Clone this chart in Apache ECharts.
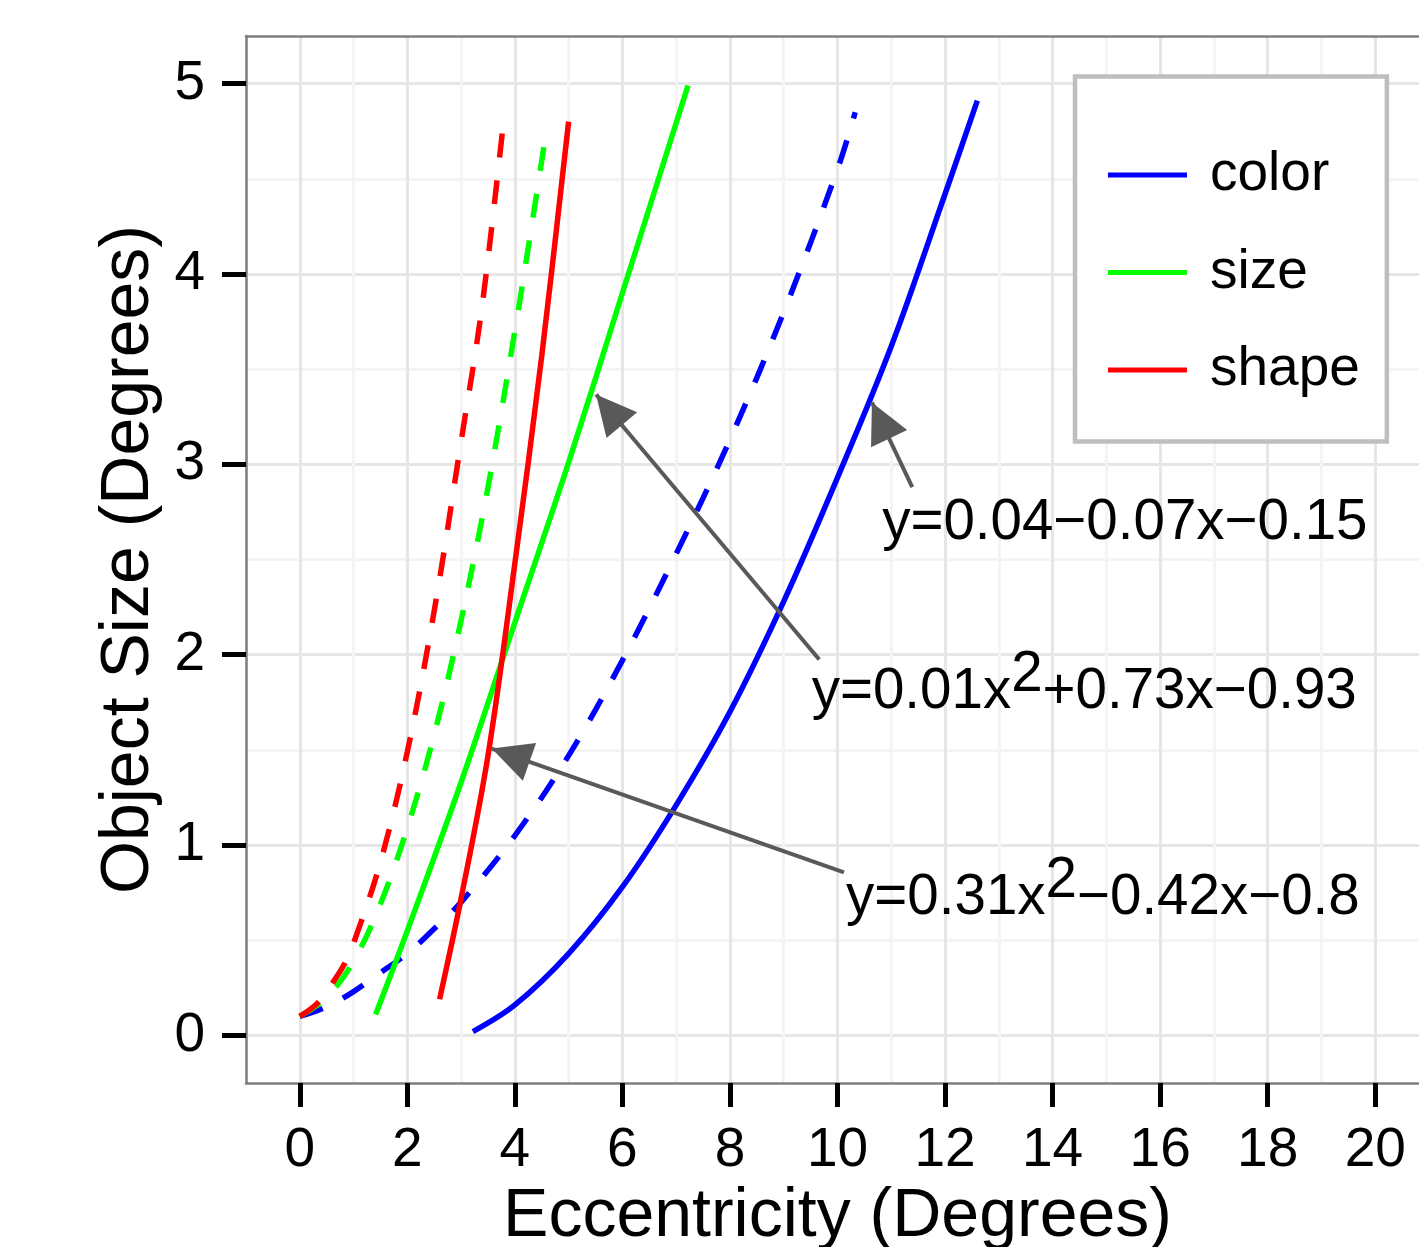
<!DOCTYPE html>
<html>
<head>
<meta charset="utf-8">
<script src="https://cdn.jsdelivr.net/npm/echarts@6/dist/echarts.min.js"></script>
<style>
  html, body { margin: 0; padding: 0; background: #fff; }
  #main { width: 1419px; height: 1247px; }
</style>
</head>
<body>
<div id="main"></div>
<script>
// tick labels
var xTicks = [0, 2, 4, 6, 8, 10, 12, 14, 16, 18, 20];
var yTicks = [0, 1, 2, 3, 4, 5];
var legendNames = ['color', 'size', 'shape'];

// curves, [eccentricity, size]
var colorSolid = [[3.22, 0.02], [4.0, 0.16], [5.0, 0.43], [6.0, 0.78], [7.0, 1.21], [8.0, 1.70],
                  [9.0, 2.28], [10.0, 2.93], [11.0, 3.62], [12.0, 4.42], [12.6, 4.91]];
var colorDashed = [[0, 0.10], [0.5, 0.15], [1.0, 0.23], [1.5, 0.33], [2.0, 0.43], [2.5, 0.56],
                   [3.0, 0.70], [4.0, 1.05], [5.0, 1.47], [6.0, 1.97], [7.0, 2.53], [8.0, 3.13],
                   [9.0, 3.80], [10.0, 4.55], [10.33, 4.85]];
var sizeSolid = [[1.41, 0.11], [2.0, 0.55], [3.0, 1.33], [4.0, 2.17], [5.0, 3.01], [6.0, 3.90], [7.22, 4.99]];
var sizeDashed = [[0, 0.10], [0.5, 0.20], [1.0, 0.39], [1.5, 0.69], [2.0, 1.09], [2.5, 1.58],
                  [3.0, 2.18], [3.5, 2.88], [4.0, 3.70], [4.3, 4.23], [4.6, 4.78]];
var shapeSolid = [[2.6, 0.19], [3.0, 0.72], [3.5, 1.47], [4.0, 2.48], [4.5, 3.57], [5.0, 4.80]];
var shapeDashed = [[0, 0.10], [0.33, 0.17], [0.62, 0.28], [0.84, 0.38], [1.02, 0.50], [1.5, 0.91],
                   [2.0, 1.49], [2.5, 2.23], [3.0, 3.12], [3.39, 3.83], [3.8, 4.83]];

// annotations
var arrowFrom = [[11.39, 2.88], [9.66, 1.975], [10.12, 0.856]];
var arrowTo = [[10.64, 3.325], [5.51, 3.367], [3.57, 1.507]];
var notePos = [[10.83, 2.69], [9.52, 1.80], [10.16, 0.72]];
var noteText = ['y=0.04\u22120.07x\u22120.15', 'y=0.01x{sup|2}+0.73x\u22120.93', 'y=0.31x{sup|2}\u22120.42x\u22120.8'];

var FONT = '"Liberation Sans", Arial, sans-serif';
var ARROW = '#595959';
var chart = echarts.init(document.getElementById('main'));

function curve(name, data, color, dashed) {
    return {
        name: name,
        type: 'line',
        data: data,
        smooth: 0.35,
        symbol: 'none',
        showSymbol: false,
        silent: true,
        itemStyle: { color: color },
        lineStyle: { color: color, width: 5.5, type: dashed ? [24, 23] : 'solid', cap: 'butt' }
    };
}

var border = { color: '#7f7f7f', width: 2.5 };

var option = {
    animation: false,
    backgroundColor: '#fff',
    grid: { left: 246, right: -10, top: 36, bottom: 164, outerBoundsMode: 'none', containLabel: false },
    legend: {
        data: legendNames,
        orient: 'vertical',
        left: 1075,
        top: 76.5,
        padding: [68.5, 27, 41.5, 33],
        itemGap: 37.5,
        itemWidth: 79,
        itemHeight: 5,
        icon: 'rect',
        itemStyle: { borderWidth: 0 },
        backgroundColor: '#fff',
        borderColor: '#bebebe',
        borderWidth: 4.5,
        borderRadius: 0,
        selectedMode: false,
        textStyle: { fontFamily: FONT, fontSize: 55, color: '#000', lineHeight: 60, padding: [0, 0, 0, 18] }
    },
    xAxis: [
        {   // grid lines: minor at odd, major at even
            type: 'value', min: -1, max: 21, interval: 1,
            axisLine: { show: false }, axisTick: { show: false }, axisLabel: { show: false },
            splitLine: { show: true, lineStyle: { color: ['#f4f4f4', '#e6e6e6'], width: 3 } }
        },
        {
            type: 'value', min: -1, max: 21, position: 'bottom', z: 5,
            axisLine: { show: true, onZero: false, lineStyle: border },
            axisTick: { show: true, customValues: xTicks, length: 24, lineStyle: { color: '#000', width: 5 } },
            axisLabel: { show: true, customValues: xTicks, margin: 40, fontFamily: FONT, fontSize: 55, color: '#000' },
            splitLine: { show: false },
            name: 'Eccentricity (Degrees)', nameLocation: 'middle', nameGap: 98,
            nameTextStyle: { fontFamily: FONT, fontSize: 68, color: '#000' }
        },
        {
            type: 'value', min: -1, max: 21, position: 'top', z: 5,
            axisLine: { show: true, onZero: false, lineStyle: border },
            axisTick: { show: false }, axisLabel: { show: false }, splitLine: { show: false }
        }
    ],
    yAxis: [
        {   // grid lines every 0.25, only 0, .5, 1 ... are coloured
            type: 'value', min: -0.25, max: 5.25, interval: 0.25,
            axisLine: { show: false }, axisTick: { show: false }, axisLabel: { show: false },
            splitLine: { show: true, lineStyle: { color: ['rgba(0,0,0,0)', '#e6e6e6', 'rgba(0,0,0,0)', '#f4f4f4'], width: 3 } }
        },
        {
            type: 'value', min: -0.25, max: 5.25, position: 'left', z: 5,
            axisLine: { show: true, onZero: false, lineStyle: border },
            axisTick: { show: true, customValues: yTicks, length: 24, lineStyle: { color: '#000', width: 5 } },
            axisLabel: { show: true, customValues: yTicks, margin: 41, fontFamily: FONT, fontSize: 55, color: '#000' },
            splitLine: { show: false },
            name: 'Object Size (Degrees)', nameLocation: 'middle', nameGap: 70, nameRotate: 90,
            nameTextStyle: { fontFamily: FONT, fontSize: 68, color: '#000' }
        }
    ],
    series: [
        curve('color', colorSolid, '#0000ff', false),
        curve('color', colorDashed, '#0000ff', true),
        curve('size', sizeSolid, '#00ff00', false),
        curve('size', sizeDashed, '#00ff00', true),
        curve('shape', shapeSolid, '#ff0000', false),
        curve('shape', shapeDashed, '#ff0000', true),
        {
            name: 'notes',
            type: 'scatter',
            silent: true,
            symbolSize: 0,
            z: 6,
            itemStyle: { color: ARROW, opacity: 1 },
            label: {
                show: true, position: 'right', distance: 0,
                fontFamily: FONT, fontSize: 56.5, color: '#000', opacity: 1,
                textBorderWidth: 0,
                rich: { sup: { fontFamily: FONT, fontSize: 56.5, color: '#000', padding: [0, 0, 34, 0] } }
            },
            data: notePos.map(function (p, i) {
                return { value: p, label: { formatter: noteText[i] } };
            }),
            markLine: {
                silent: true,
                animation: false,
                symbol: ['none', 'triangle'],
                symbolSize: 40,
                symbolOffset: [0, [0, 20]],
                label: { show: false },
                emphasis: { disabled: true },
                itemStyle: { color: ARROW },
                lineStyle: { color: ARROW, width: 4, type: 'solid', opacity: 1 },
                data: arrowFrom.map(function (p, i) {
                    return [{ coord: p }, { coord: arrowTo[i] }];
                })
            }
        }
    ]
};

chart.setOption(option);
</script>
</body>
</html>
